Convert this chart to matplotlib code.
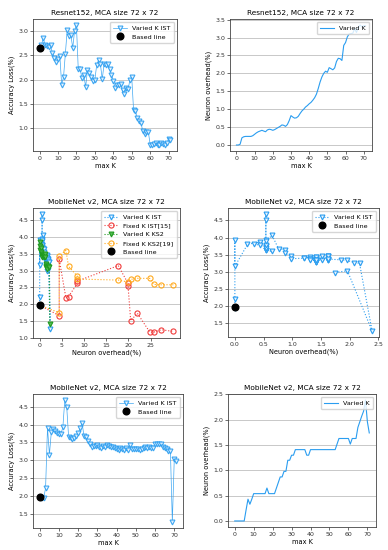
import matplotlib
matplotlib.use("Agg")
import matplotlib.pyplot as plt
from matplotlib.ticker import MultipleLocator
import numpy as np

# ---- Resnet152 (top row) ----
res_k = np.arange(1, 72)
res_acc = [2.70, 2.86, 2.70, 2.68, 2.67, 2.70, 2.54, 2.44, 2.37, 2.42,
           2.49, 1.90, 2.05, 2.53, 3.02, 2.90, 2.91, 2.65, 3.00, 3.12,
           2.21, 2.22, 2.03, 2.10, 1.85, 2.20, 2.13, 2.05, 1.98, 2.00,
           2.30, 2.40, 2.32, 2.01, 2.32, 2.31, 2.33, 2.22, 2.10, 1.98,
           1.83, 1.89, 1.88, 1.91, 1.78, 1.71, 1.82, 1.80, 1.99, 2.05,
           1.37, 1.35, 1.21, 1.16, 1.12, 0.94, 0.88, 0.93, 0.93, 0.67,
           0.66, 0.68, 0.70, 0.67, 0.66, 0.70, 0.68, 0.66, 0.70, 0.78,
           0.76]
res_base = (0, 2.65)

res_k2 = np.arange(0, 72)
res_ovh = [0.00, 0.00, 0.02, 0.20, 0.23, 0.24, 0.24, 0.24, 0.24, 0.26,
           0.30, 0.34, 0.37, 0.39, 0.41, 0.39, 0.37, 0.42, 0.44, 0.43,
           0.41, 0.43, 0.46, 0.49, 0.52, 0.56, 0.55, 0.52, 0.57, 0.68,
           0.82, 0.78, 0.75, 0.76, 0.80, 0.88, 0.95, 1.00, 1.06, 1.10,
           1.15, 1.19, 1.25, 1.32, 1.42, 1.58, 1.76, 1.90, 2.00, 2.06,
           2.03, 2.16, 2.13, 2.10, 2.15, 2.33, 2.42, 2.41, 2.36, 2.78,
           2.86, 3.02, 3.10, 3.11, 3.12, 3.25, 3.14, 3.28, 3.35, 3.30,
           3.33, 3.33]

# ---- MobileNet v2, varied K IST (middle right, bottom row) ----
mob_k = np.arange(0, 72)
mob_acc = [1.96, 1.95, 1.94, 2.22, 3.92, 3.16, 3.80, 3.87, 3.82, 3.77,
           3.75, 3.74, 3.93, 4.69, 4.50, 3.65, 3.63, 3.60, 3.63, 3.68,
           3.77, 3.90, 4.06, 3.67, 3.65, 3.55, 3.45, 3.38, 3.40, 3.40,
           3.42, 3.38, 3.35, 3.40, 3.38, 3.42, 3.40, 3.38, 3.38, 3.35,
           3.32, 3.30, 3.35, 3.33, 3.28, 3.35, 3.30, 3.42, 3.33, 3.32,
           3.32, 3.33, 3.30, 3.33, 3.35, 3.37, 3.35, 3.37, 3.35, 3.35,
           3.45, 3.45, 3.47, 3.45, 3.37, 3.35, 3.33, 3.27, 3.25, 1.27,
           3.03, 2.98]
mob_ovh = [0.00, 0.00, 0.00, 0.00, 0.00, 0.00, 0.22, 0.43, 0.33, 0.43,
           0.54, 0.54, 0.54, 0.54, 0.54, 0.54, 0.54, 0.65, 0.54, 0.54,
           0.54, 0.54, 0.65, 0.76, 0.87, 0.87, 0.98, 0.98, 1.20, 1.20,
           1.30, 1.30, 1.41, 1.41, 1.41, 1.41, 1.41, 1.41, 1.30, 1.30,
           1.41, 1.41, 1.41, 1.41, 1.41, 1.41, 1.41, 1.41, 1.41, 1.41,
           1.41, 1.41, 1.41, 1.41, 1.52, 1.63, 1.63, 1.63, 1.63, 1.63,
           1.63, 1.52, 1.63, 1.63, 1.63, 1.85, 1.96, 2.07, 2.17, 2.39,
           1.96, 1.74]
mob_base = (0, 1.97)

# ---- MobileNet v2 comparison (middle left) ----
fix_ist_x = [0.0, 4.4, 4.4, 5.9, 6.5, 8.5, 8.5, 17.7, 19.9, 19.9, 20.5, 22.0, 24.8, 25.7, 27.4, 30.1]
fix_ist_y = [1.97, 1.66, 3.34, 2.19, 2.23, 2.62, 2.69, 3.15, 2.62, 2.55, 1.51, 1.73, 1.17, 1.17, 1.24, 1.19]
fix_ks2_x = [0.0, 4.4, 4.4, 5.9, 6.5, 8.5, 8.5, 17.7, 19.9, 20.5, 22.0, 24.8, 25.7, 27.4, 30.1]
fix_ks2_y = [1.97, 1.75, 3.44, 3.60, 3.13, 2.83, 2.75, 2.72, 2.66, 2.74, 2.77, 2.77, 2.59, 2.58, 2.58]
var_ks2_x = [0.0, 0.0, 0.0, 0.22, 0.33, 0.43, 0.54, 0.54, 0.65, 0.76, 0.87, 0.98,
             1.20, 1.30, 1.41, 1.41, 1.52, 1.63, 1.74, 1.85, 2.17, 2.28]
var_ks2_y = [3.85, 3.72, 3.62, 3.68, 3.55, 3.50, 3.45, 3.40, 3.48, 3.45, 3.42, 3.45,
             3.50, 3.40, 3.20, 3.12, 3.15, 3.10, 3.05, 3.15, 3.12, 1.40]
cmp_xticks = [0, 5, 10, 15, 20, 25]

BLUE = "#2a9df0"
RED = "#f03c3c"
GREEN = "#1f9a1f"
ORANGE = "#ffaa1e"

plt.rcParams["font.family"] = "DejaVu Sans"
fig = plt.figure(figsize=(3.88, 5.5), dpi=100)
W, H = 388.0, 550.0


def make_ax(l, r, t, b):
    ax = fig.add_axes([l / W, 1 - b / H, (r - l) / W, (b - t) / H])
    ax.yaxis.grid(True, color="#c8c8c8", linewidth=0.7)
    ax.set_axisbelow(True)
    ax.tick_params(labelsize=4.5, length=2, width=0.5, pad=1.5, colors="#333333")
    for s in ax.spines.values():
        s.set_linewidth(0.6)
        s.set_color("#444444")
    return ax


def finish(ax, title, xlabel, ylabel):
    ax.set_title(title, fontsize=5.3, pad=3)
    ax.set_xlabel(xlabel, fontsize=4.8, labelpad=1.5)
    ax.set_ylabel(ylabel, fontsize=4.8, labelpad=2)
    ax.legend(loc="upper right", fontsize=4.6, framealpha=0.8, borderpad=0.5,
              handlelength=2.2, labelspacing=0.5)


tri = dict(marker="v", markersize=3.5, markerfacecolor="#e6f3ff", markeredgewidth=0.8)
circ = dict(marker="o", markersize=3.7, markerfacecolor="none", markeredgewidth=0.8)

# Panel 1
ax = make_ax(33, 177, 19, 151)
ax.plot(res_k, res_acc, color=BLUE, linewidth=0.5, alpha=0.9, label="Varied K IST",
        markeredgecolor=BLUE, **tri)
ax.plot(*res_base, "o", color="black", markersize=4.8, label="Based line")
ax.xaxis.set_major_locator(MultipleLocator(10))
finish(ax, "Resnet152, MCA size 72 x 72", "max K", "Accuracy Loss(%)")

# Panel 2
ax = make_ax(230, 372, 19, 151)
ax.plot(res_k2, res_ovh, color=BLUE, linewidth=0.8, label="Varied K")
ax.set_yticks(np.arange(0, 3.6, 0.5))
ax.xaxis.set_major_locator(MultipleLocator(10))
finish(ax, "Resnet152, MCA size 72 x 72", "max K", "Neuron overhead(%)")

# Panel 3
ax = make_ax(33, 180, 208, 338)
ax.plot(mob_ovh, mob_acc, ":", color=BLUE, linewidth=0.8, label="Varied K IST",
        markeredgecolor=BLUE, **tri)
ax.plot(fix_ist_x, fix_ist_y, ":", color=RED, linewidth=0.8, label="Fixed K IST[15]",
        markeredgecolor=RED, **circ)
ax.plot(var_ks2_x, var_ks2_y, ":", color=GREEN, linewidth=0.8, label="Varied K KS2",
        marker="v", markersize=3.5, markerfacecolor="#55bb55", markeredgecolor=GREEN,
        markeredgewidth=0.8)
ax.plot(fix_ks2_x, fix_ks2_y, ":", color=ORANGE, linewidth=0.8, label="Fixed K KS2[19]",
        markeredgecolor=ORANGE, **circ)
ax.plot(*mob_base, "o", color="black", markersize=4.8, label="Based line")
ax.set_xticks(cmp_xticks)
finish(ax, "MobileNet v2, MCA size 72 x 72", "Neuron overhead(%)", "Accuracy Loss(%)")

# Panel 4
ax = make_ax(228, 379, 208, 337)
ax.plot(mob_ovh, mob_acc, ":", color=BLUE, linewidth=0.8, label="Varied K IST",
        markeredgecolor=BLUE, **tri)
ax.plot(*mob_base, "o", color="black", markersize=4.8, label="Based line")
finish(ax, "MobileNet v2, MCA size 72 x 72", "Neuron overhead(%)", "Accuracy Loss(%)")

# Panel 5
ax = make_ax(33, 183, 394, 528)
ax.plot(mob_k, mob_acc, color=BLUE, linewidth=0.5, alpha=0.9, label="Varied K IST",
        markeredgecolor=BLUE, **tri)
ax.plot(*mob_base, "o", color="black", markersize=4.8, label="Based line")
ax.xaxis.set_major_locator(MultipleLocator(10))
finish(ax, "MobileNet v2, MCA size 72 x 72", "max K", "Accuracy Loss(%)")

# Panel 6
ax = make_ax(228, 376, 394, 527)
ax.plot(mob_k, mob_ovh, color=BLUE, linewidth=0.8, label="Varied K")
ax.xaxis.set_major_locator(MultipleLocator(10))
finish(ax, "MobileNet v2, MCA size 72 x 72", "max K", "Neuron overhead(%)")

fig.savefig("out.png", dpi=100)
